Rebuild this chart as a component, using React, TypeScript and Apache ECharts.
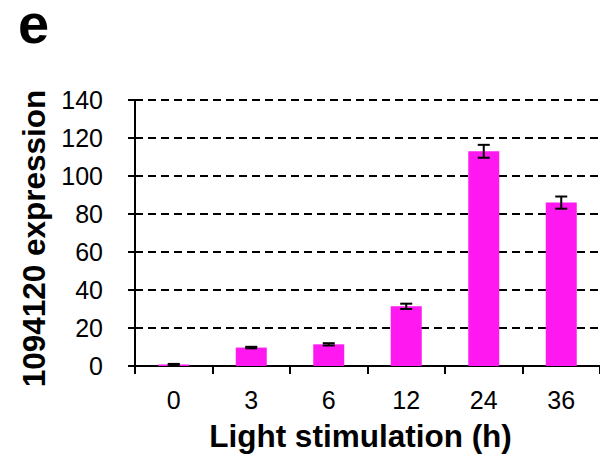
import React, { useEffect, useRef } from 'react';
import * as echarts from 'echarts';

const categories = ['0', '3', '6', '12', '24', '36'];
const expression = [0.8, 9.7, 11.4, 31.4, 113.0, 86.0];
const errors = [0.3, 0.4, 0.6, 1.4, 3.4, 3.2];
const yMin = 0;
const yMax = 140;
const yStep = 20;
const panelLabel = 'e';
const xTitle = 'Light stimulation (h)';
const yTitle = '1094120 expression';

const FONT = '"Liberation Sans", Arial, Helvetica, sans-serif';

export default function App() {
  const ref = useRef<HTMLDivElement>(null);
  useEffect(() => {
    const chart = echarts.init(ref.current as HTMLDivElement, null, { renderer: 'svg' });
    const errData = categories.map((_, i) => [i, expression[i], errors[i]]);
    chart.setOption({
      animation: false,
      backgroundColor: '#ffffff',
      textStyle: { fontFamily: FONT },
      grid: { left: 135, right: -4, top: 100, bottom: 86, containLabel: false },
      xAxis: {
        type: 'category',
        data: categories,
        axisLine: { show: true, lineStyle: { color: '#000', width: 2 } },
        axisTick: { show: true, alignWithLabel: false, length: 8, lineStyle: { color: '#000', width: 2 } },
        axisLabel: { color: '#000', fontSize: 25, margin: 21, fontFamily: FONT },
        splitLine: { show: false },
        name: xTitle,
        nameLocation: 'middle',
        nameGap: 54,
        nameTextStyle: {
          color: '#000',
          fontSize: 31.5,
          fontWeight: 'bold',
          fontFamily: FONT,
          padding: [0, 14, 0, 0],
        },
      },
      yAxis: {
        type: 'value',
        min: yMin,
        max: yMax,
        interval: yStep,
        axisLine: { show: true, lineStyle: { color: '#000', width: 2 } },
        axisTick: { show: true, length: 7, lineStyle: { color: '#000', width: 2 } },
        axisLabel: { color: '#000', fontSize: 25, margin: 32, fontFamily: FONT },
        splitLine: { show: true, lineStyle: { color: '#000', width: 1.8, type: [8, 5] } },
        name: yTitle,
        nameLocation: 'middle',
        nameGap: 85,
        nameRotate: 90,
        nameTextStyle: {
          color: '#000',
          fontSize: 31.5,
          fontWeight: 'bold',
          fontFamily: FONT,
          padding: [0, 11, 0, 0],
        },
      },
      series: [
        {
          type: 'bar',
          data: expression,
          barWidth: 31,
          itemStyle: { color: '#FF18F0' },
          z: 2,
        },
        {
          type: 'custom',
          data: errData,
          encode: { x: 0, y: 1 },
          z: 3,
          renderItem: (params: any, api: any) => {
            const x = api.value(0);
            const v = api.value(1);
            const e = api.value(2);
            const hi = api.coord([x, v + e]);
            const lo = api.coord([x, v - e]);
            const hw = 6;
            const style = { stroke: '#000', lineWidth: 2 };
            return {
              type: 'group',
              children: [
                { type: 'line', shape: { x1: hi[0], y1: hi[1], x2: lo[0], y2: lo[1] }, style },
                { type: 'line', shape: { x1: hi[0] - hw, y1: hi[1], x2: hi[0] + hw, y2: hi[1] }, style },
                { type: 'line', shape: { x1: lo[0] - hw, y1: lo[1], x2: lo[0] + hw, y2: lo[1] }, style },
              ],
            };
          },
        },
      ],
      graphic: [
        {
          type: 'text',
          x: 18,
          y: 23,
          style: {
            text: panelLabel,
            font: `bold 56px ${FONT}`,
            lineHeight: 40,
            fill: '#000',
            align: 'left',
            verticalAlign: 'middle',
          },
        },
      ],
    });
    return () => chart.dispose();
  }, []);
  return (
    <div
      ref={ref}
      style={{ position: 'absolute', left: 0, top: 0, width: 600, height: 457, overflow: 'hidden' }}
    />
  );
}
